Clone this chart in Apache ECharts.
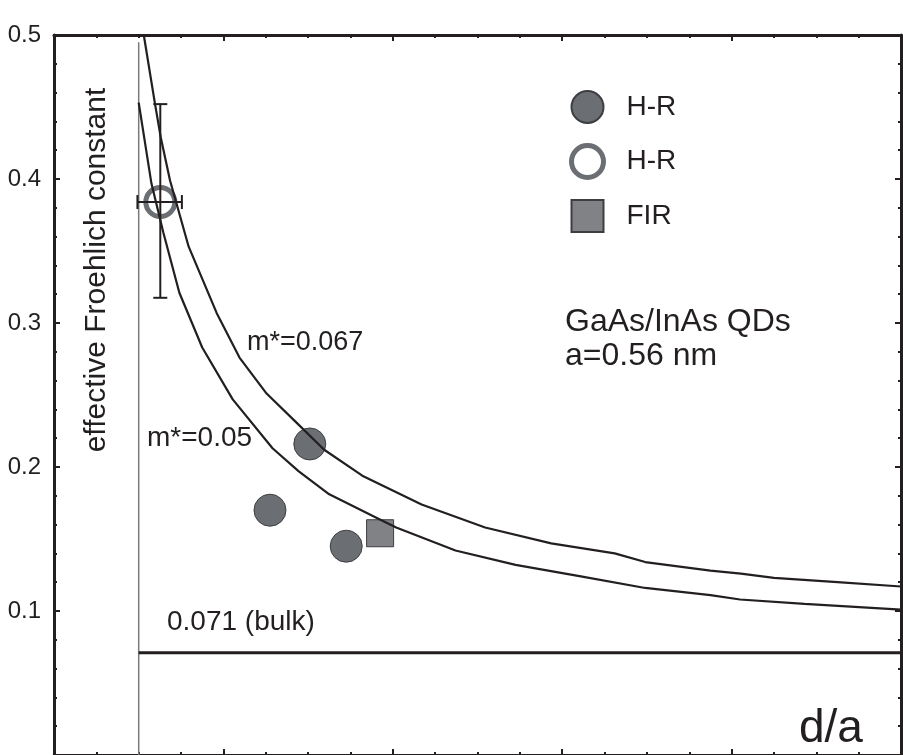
<!DOCTYPE html>
<html>
<head>
<meta charset="utf-8">
<script src="https://cdn.jsdelivr.net/npm/echarts@6/dist/echarts.min.js"></script>
<style>
  html, body { margin: 0; padding: 0; background: #fff; }
  #main { width: 903px; height: 755px; }
</style>
</head>
<body>
<div id="main"></div>
<script>
// calculated curves: [d/a, constant]
var curve067 = [
  [1.06, 0.500], [1.19, 0.453], [1.26, 0.429], [1.37, 0.399], [1.59, 0.353],
  [1.92, 0.307], [2.19, 0.276], [2.51, 0.251], [2.86, 0.231], [3.19, 0.212],
  [3.64, 0.194], [4.34, 0.174], [5.09, 0.158], [5.87, 0.147], [6.62, 0.140],
  [6.98, 0.134], [7.75, 0.128], [8.11, 0.126], [8.50, 0.123], [9.25, 0.120],
  [10.0, 0.117]
];
var curve05 = [
  [1.00, 0.453], [1.15, 0.397], [1.29, 0.363], [1.48, 0.321], [1.75, 0.283],
  [2.11, 0.247], [2.58, 0.213], [2.89, 0.197], [3.25, 0.181], [3.80, 0.165],
  [4.04, 0.158], [4.74, 0.142], [5.45, 0.132], [6.22, 0.124], [6.98, 0.116],
  [7.75, 0.111], [8.10, 0.108], [8.86, 0.105], [10.0, 0.101]
];
// measured points
var hrFilled = [[3.02, 0.216], [2.55, 0.170], [3.45, 0.145]];
var hrOpen = [[1.255, 0.384]];
var firPoints = [[3.85, 0.154]];
// error bar: x, y, xLow, xHigh, yLow, yHigh
var hrOpenErr = [[1.255, 0.384, 0.985, 1.51, 0.3175, 0.452]];
// reference lines
var bulkValue = 0.071;
var bulkLine = [[1, bulkValue], [10, bulkValue]];
var markerLine = [[1, 0], [1, 0.495]];
var yTicks = [0, 0.1, 0.2, 0.3, 0.4, 0.5];

var font = 'Liberation Sans, Arial, sans-serif';
var ink = '#231f20';

var chart = echarts.init(document.getElementById('main'));

function xAxisOf(pos) {
  return {
    type: 'value', position: pos, min: 0, max: 10, interval: 2,
    axisLine: { show: true, onZero: false, lineStyle: { color: ink, width: 3 } },
    axisTick: { show: true, inside: true, length: 6, lineStyle: { color: ink, width: 2 } },
    minorTick: { show: true, splitNumber: 4, length: 3, lineStyle: { color: ink, width: 2 } },
    axisLabel: { show: false },
    splitLine: { show: false }
  };
}
function yAxisOf(pos, labels) {
  return {
    type: 'value', position: pos, min: yTicks[0], max: yTicks[yTicks.length - 1], interval: 0.1,
    axisLine: { show: true, onZero: false, lineStyle: { color: ink, width: 3 } },
    axisTick: { show: true, inside: true, length: 6, lineStyle: { color: ink, width: 2 } },
    minorTick: { show: true, splitNumber: 5, length: 3, lineStyle: { color: ink, width: 2 } },
    axisLabel: {
      show: labels, margin: 13, color: ink, fontFamily: font, fontSize: 24,
      formatter: function (v) { return v === 0 ? '' : v.toFixed(1); }
    },
    splitLine: { show: false }
  };
}

function anno(text, x, y, size) {
  return {
    type: 'text', left: x, top: y - size * 0.6,
    style: { text: text, fill: ink, font: size + 'px ' + font }
  };
}

var option = {
  backgroundColor: '#fff',
  animation: false,
  grid: { left: 54, right: 2, top: 35, bottom: -1 },
  xAxis: [xAxisOf('bottom'), xAxisOf('top')],
  yAxis: [yAxisOf('left', true), yAxisOf('right', false)],
  legend: {
    orient: 'vertical', left: 569, top: 90, padding: 0,
    itemWidth: 32, itemHeight: 32, itemGap: 19,
    textStyle: { color: ink, fontFamily: font, fontSize: 28, lineHeight: 32, padding: [0, 0, 0, 18] },
    formatter: function (n) { return n.split(' ')[0]; },
    data: [
      { name: 'H-R', icon: 'circle' },
      { name: 'H-R open', icon: 'circle',
        itemStyle: { color: 'rgba(0,0,0,0)', borderColor: '#6b6e72', borderWidth: 5 } },
      { name: 'FIR', icon: 'rect' }
    ]
  },
  graphic: [
    anno('0.071 (bulk)', 167, 625, 28),
    anno('m*=0.067', 247, 345, 27),
    anno('m*=0.05', 147, 441, 28),
    anno('GaAs/InAs QDs', 565, 325, 32),
    anno('a=0.56 nm', 565, 359, 32),
    anno('d/a', 799, 734, 46),
    {
      type: 'text', x: 97, y: 270, rotation: Math.PI / 2,
      style: { text: 'effective Froehlich constant', fill: ink, font: '30px ' + font,
        align: 'center', verticalAlign: 'middle' }
    }
  ],
  series: [
    { type: 'line', data: markerLine, showSymbol: false, silent: true,
      lineStyle: { color: '#7a7a7a', width: 1.5 } },
    { type: 'line', data: bulkLine, showSymbol: false, silent: true,
      lineStyle: { color: ink, width: 3 } },
    { type: 'line', data: curve067, showSymbol: false,
      lineStyle: { color: ink, width: 2.2 } },
    { type: 'line', data: curve05, showSymbol: false,
      lineStyle: { color: ink, width: 2.2 } },
    { name: 'H-R', type: 'scatter', data: hrFilled, symbol: 'circle', symbolSize: 32,
      itemStyle: { color: '#6b6e72', borderColor: '#3c3e41', borderWidth: 1, opacity: 1 } },
    { name: 'H-R open', type: 'scatter', data: hrOpen, symbol: 'circle', symbolSize: 29,
      itemStyle: { color: 'rgba(0,0,0,0)', borderColor: '#6b6e72', borderWidth: 5, opacity: 1 } },
    { name: 'FIR', type: 'scatter', data: firPoints, symbol: 'rect', symbolSize: 27,
      itemStyle: { color: '#808285', borderColor: '#3c3e41', borderWidth: 1, opacity: 1 } },
    {
      type: 'custom', data: hrOpenErr, z: 10, silent: true,
      renderItem: function (params, api) {
        var c = api.coord([api.value(0), api.value(1)]);
        var xl = api.coord([api.value(2), api.value(1)]);
        var xh = api.coord([api.value(3), api.value(1)]);
        var yl = api.coord([api.value(0), api.value(4)]);
        var yh = api.coord([api.value(0), api.value(5)]);
        var cap = 7;
        var st = { stroke: ink, lineWidth: 2 };
        return {
          type: 'group',
          children: [
            { type: 'line', shape: { x1: c[0], y1: yl[1], x2: c[0], y2: yh[1] }, style: st },
            { type: 'line', shape: { x1: c[0] - cap, y1: yl[1], x2: c[0] + cap, y2: yl[1] }, style: st },
            { type: 'line', shape: { x1: c[0] - cap, y1: yh[1], x2: c[0] + cap, y2: yh[1] }, style: st },
            { type: 'line', shape: { x1: xl[0], y1: c[1], x2: xh[0], y2: c[1] }, style: st },
            { type: 'line', shape: { x1: xl[0], y1: c[1] - cap, x2: xl[0], y2: c[1] + cap }, style: st },
            { type: 'line', shape: { x1: xh[0], y1: c[1] - cap, x2: xh[0], y2: c[1] + cap }, style: st }
          ]
        };
      }
    }
  ]
};

chart.setOption(option);
</script>
</body>
</html>
